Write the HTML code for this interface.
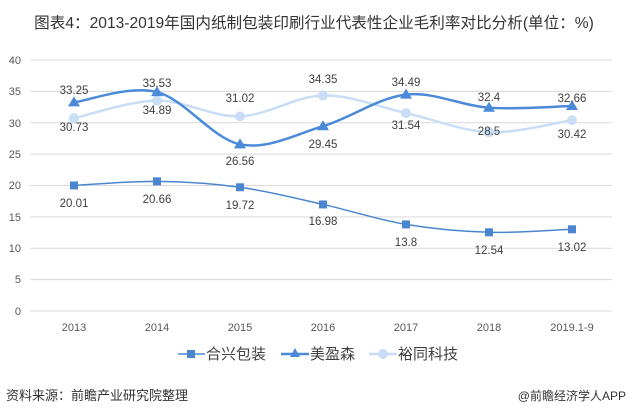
<!DOCTYPE html>
<html><head><meta charset="utf-8"><style>
body{margin:0;background:#fff;width:629px;height:414px;overflow:hidden}
svg text{font-family:"Liberation Sans","Noto Sans CJK SC",sans-serif}
</style></head><body>
<svg id="s" width="629" height="414" xmlns="http://www.w3.org/2000/svg">
<text x="314" y="28" text-anchor="middle" font-size="15.6" fill="#333">图表4：2013-2019年国内纸制包装印刷行业代表性企业毛利率对比分析(单位：%)</text>
<g stroke="#d9d9d9" stroke-width="1">
<line x1="30" x2="612" y1="60" y2="60"/><line x1="30" x2="612" y1="91.4" y2="91.4"/><line x1="30" x2="612" y1="122.8" y2="122.8"/><line x1="30" x2="612" y1="154.1" y2="154.1"/><line x1="30" x2="612" y1="185.5" y2="185.5"/><line x1="30" x2="612" y1="216.9" y2="216.9"/><line x1="30" x2="612" y1="248.3" y2="248.3"/><line x1="30" x2="612" y1="279.6" y2="279.6"/><line x1="30" x2="612" y1="311" y2="311"/>
</g>
<g font-size="11" fill="#595959" text-anchor="end">
<text x="21" y="64">40</text><text x="21" y="95">35</text><text x="21" y="127">30</text><text x="21" y="158">25</text><text x="21" y="189">20</text><text x="21" y="221">15</text><text x="21" y="252">10</text><text x="21" y="283">5</text><text x="21" y="315">0</text>
</g>
<g font-size="11" fill="#595959" text-anchor="middle">
<text x="74" y="331">2013</text><text x="157" y="331">2014</text><text x="240" y="331">2015</text><text x="323" y="331">2016</text><text x="406" y="331">2017</text><text x="489" y="331">2018</text><text x="572" y="331">2019.1-9</text>
</g>
<g id="series"></g>
<g font-size="11.5" fill="#404040" text-anchor="middle">
<text x="74" y="94">33.25</text><text x="157" y="87">33.53</text><text x="240" y="102">31.02</text><text x="323" y="83">34.35</text><text x="406" y="86">34.49</text><text x="489" y="101">32.4</text><text x="572" y="102">32.66</text>
<text x="74" y="131">30.73</text><text x="157" y="114">34.89</text><text x="240" y="165">26.56</text><text x="323" y="148">29.45</text><text x="406" y="129">31.54</text><text x="489" y="135">28.5</text><text x="572" y="138">30.42</text>
<text x="74" y="207">20.01</text><text x="157" y="203">20.66</text><text x="240" y="209">19.72</text><text x="323" y="225">16.98</text><text x="406" y="246">13.8</text><text x="489" y="254">12.54</text><text x="572" y="251">13.02</text>
</g>
<g font-size="15" fill="#404040">
<line x1="178" x2="205" y1="354" y2="354" stroke="#4a86d0" stroke-width="1.5"/><rect x="187" y="350" width="8" height="8" fill="#4a86d0"/><text x="206" y="359">合兴包装</text>
<line x1="281" x2="309" y1="354" y2="354" stroke="#4a8ad8" stroke-width="2.5"/><polygon points="295,348 300,357 290,357" fill="#4a8ad8"/><text x="310" y="359">美盈森</text>
<line x1="369" x2="397" y1="354" y2="354" stroke="#c9def6" stroke-width="2.5"/><circle cx="383" cy="354" r="5" fill="#c9def6"/><text x="398" y="359">裕同科技</text>
</g>
<text x="6" y="400" font-size="13" fill="#333">资料来源：前瞻产业研究院整理</text>
<text x="626" y="400" font-size="12" fill="#333" text-anchor="end">@前瞻经济学人APP</text>
</svg>
<script>
var xs=[74,157,240,323,406,489,572];
function y(v){return 311-6.275*v}
function path(vals){var p=vals.map(function(v,i){return [xs[i],y(v)]});var d="M"+p[0][0]+","+p[0][1];
for(var i=0;i<p.length-1;i++){var p0=p[i-1]||p[i],p1=p[i],p2=p[i+1],p3=p[i+2]||p2,t=6;
d+=" C"+(p1[0]+(p2[0]-p0[0])/t)+","+(p1[1]+(p2[1]-p0[1])/t)+" "+(p2[0]-(p3[0]-p1[0])/t)+","+(p2[1]-(p3[1]-p1[1])/t)+" "+p2[0]+","+p2[1];}return d;}
var S=[{v:[30.73,33.53,31.02,34.35,31.54,28.5,30.42],c:"#c9def6",w:2.5,m:"c"},
{v:[33.25,34.89,26.56,29.45,34.49,32.4,32.66],c:"#4a8ad8",w:2.5,m:"t"},
{v:[20.01,20.66,19.72,16.98,13.8,12.54,13.02],c:"#4a86d0",w:1.5,m:"s"}];
var h="";S.forEach(function(s){h+='<path d="'+path(s.v)+'" fill="none" stroke="'+s.c+'" stroke-width="'+s.w+'"/>';
s.v.forEach(function(v,i){var X=xs[i],Y=y(v);
if(s.m=="c")h+='<circle cx="'+X+'" cy="'+Y+'" r="5" fill="'+s.c+'"/>';
else if(s.m=="t")h+='<polygon points="'+X+','+(Y-6)+' '+(X+6)+','+(Y+4)+' '+(X-6)+','+(Y+4)+'" fill="'+s.c+'"/>';
else h+='<rect x="'+(X-4)+'" y="'+(Y-4)+'" width="8" height="8" fill="'+s.c+'"/>';});});
document.getElementById("series").innerHTML=h;
</script>
</body></html>
